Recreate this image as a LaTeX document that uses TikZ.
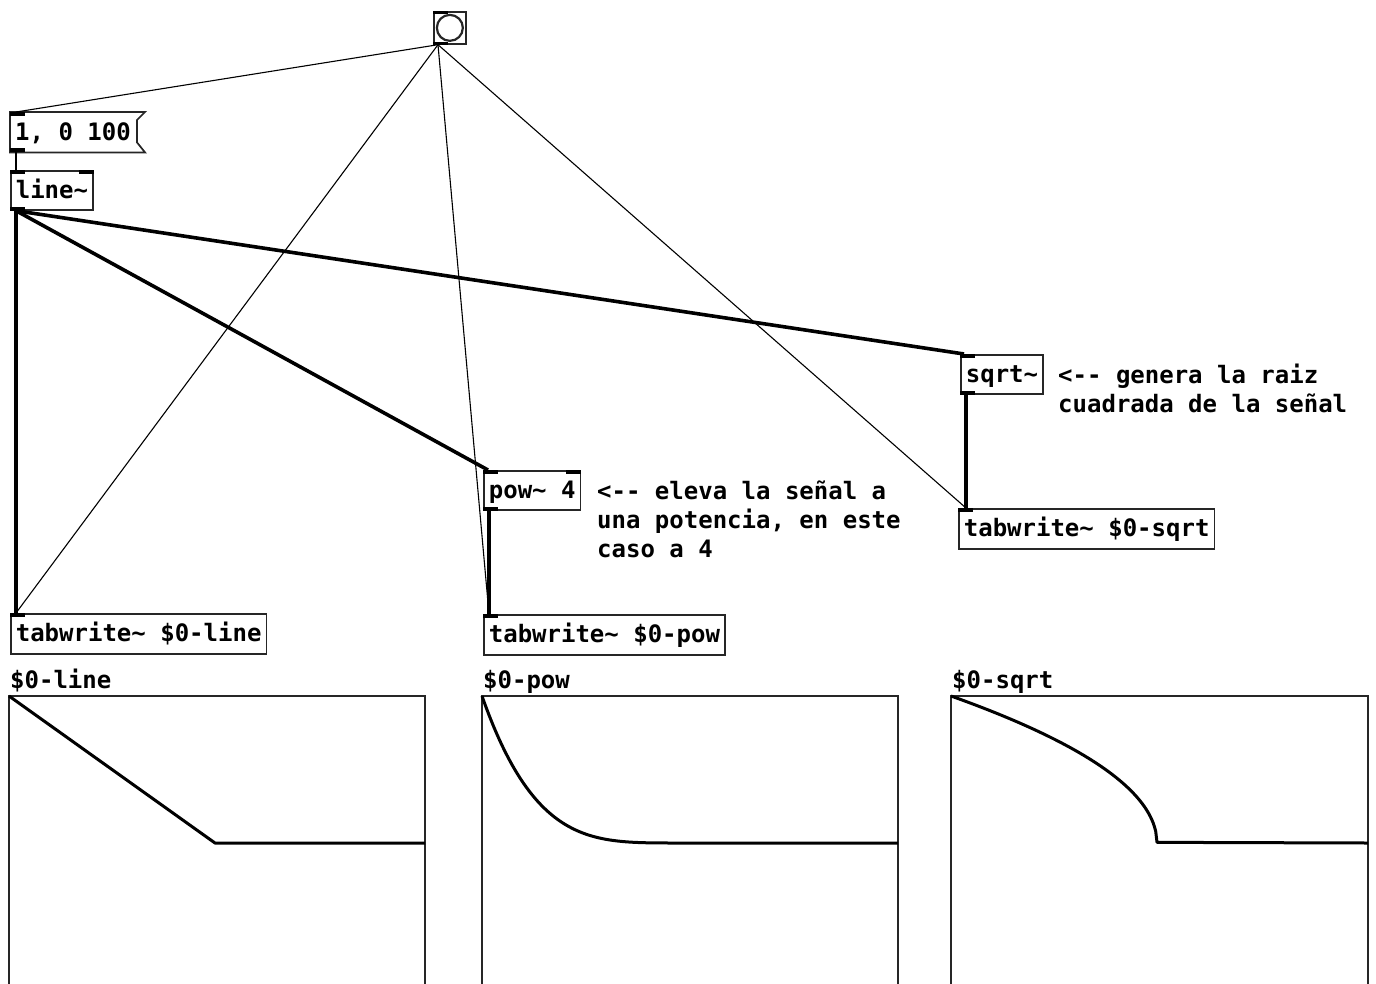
\documentclass[tikz,border=0pt]{standalone}
\usepackage{fontspec}
\setmonofont{DejaVu Sans Mono}
\usetikzlibrary{calc}
\definecolor{boxc}{gray}{0.15}
\begin{document}
\begin{tikzpicture}[x=1pt,y=-1pt,
  pd/.style={font=\ttfamily\bfseries\fontsize{24}{29}\selectfont},
  obj/.style={pd, draw=boxc, line width=1.7pt, anchor=north west, inner xsep=5pt, inner ysep=0pt, minimum height=39pt, text height=20pt, text depth=4pt},
  thinw/.style={line width=1.1pt, black},
  thickw/.style={line width=3.6pt, black},
  iol/.style={fill=black},
  graphbox/.style={draw=boxc, line width=2pt},
  curve/.style={line width=3pt, black, line join=round},
  cmt/.style={pd, anchor=north west, inner sep=0pt, align=left}]
\useasboundingbox (0,0) rectangle (1376,983);
\clip (0,0) rectangle (1376,983);
% bang
\node[draw=boxc, line width=1.7pt, minimum size=32pt, anchor=north west, inner sep=0pt] (bang) at (433,11) {};
\draw[boxc, line width=2.2pt] (bang.center) circle (13);
\fill[iol] (bang.north west) rectangle ++(15,3);
\fill[iol] (bang.south west) rectangle ++(15,-3);
% message box
\node[pd, anchor=north west, inner xsep=5pt, inner ysep=0pt, minimum height=40pt, text height=20pt, text depth=4pt] (msg) at (10,112) {1, 0 100};
\draw[boxc, line width=1.7pt] (msg.north west) -- ($(msg.north east)+(9,0)$) -- ($(msg.north east)+(1,8)$) -- ($(msg.south east)+(1,-10)$) -- ($(msg.south east)+(9,0)$) -- (msg.south west) -- cycle;
\fill[iol] (msg.north west) rectangle ++(15,4);
\fill[iol] (msg.south west) rectangle ++(15,-4);
% objects
\node[obj] (line) at (10,170) {line\textasciitilde};
\fill[iol] (line.north west) rectangle ++(15,4);
\fill[iol] (line.north east) rectangle ++(-15,4);
\fill[iol] (line.south west) rectangle ++(15,-4);
\node[obj] (sqrt) at (960,354) {sqrt\textasciitilde};
\fill[iol] (sqrt.north west) rectangle ++(15,4);
\fill[iol] (sqrt.south west) rectangle ++(15,-4);
\node[obj] (pow) at (483,470) {pow\textasciitilde{} 4};
\fill[iol] (pow.north west) rectangle ++(15,4);
\fill[iol] (pow.north east) rectangle ++(-15,4);
\fill[iol] (pow.south west) rectangle ++(15,-4);
\node[obj, minimum height=40pt] (ts) at (958,508) {tabwrite\textasciitilde{} \$0-sqrt};
\fill[iol] (ts.north west) rectangle ++(15,4);
\node[obj, minimum height=40pt] (tl) at (10,613) {tabwrite\textasciitilde{} \$0-line};
\fill[iol] (tl.north west) rectangle ++(15,4);
\node[obj, minimum height=40pt] (tp) at (483,614) {tabwrite\textasciitilde{} \$0-pow};
\fill[iol] (tp.north west) rectangle ++(15,4);
% comments
\node[cmt] (c1) at (1058,364) {<-{}- genera la raiz\\cuadrada de la señal};
\node[cmt] (c2) at (597,481) {<-{}- eleva la señal a\\una potencia, en este\\caso a 4};
% connections
\draw[thinw] ([xshift=5pt]bang.south west) -- ([xshift=6pt]msg.north west);
\draw[thinw] ([xshift=6pt]msg.south west) -- ([xshift=6pt]line.north west);
\draw[thickw] ([xshift=6pt]line.south west) -- ([xshift=6pt]tl.north west);
\draw[thickw] ([xshift=6pt]line.south west) -- ([xshift=5pt]pow.north west);
\draw[thickw] ([xshift=6pt]line.south west) -- ([xshift=4pt]sqrt.north west);
\draw[thickw] ([xshift=6pt]pow.south west) -- ([xshift=6pt]tp.north west);
\draw[thickw] ([xshift=6pt]sqrt.south west) -- ([xshift=8pt]ts.north west);
\draw[thinw] ([xshift=5pt]bang.south west) -- ([xshift=6pt]tl.north west);
\draw[thinw] ([xshift=5pt]bang.south west) -- ([xshift=6pt]tp.north west);
\draw[thinw] ([xshift=5pt]bang.south west) -- ([xshift=8pt]ts.north west);
% graph labels
\node[pd, anchor=base west, inner sep=0pt] (gl1) at (10,688) {\$0-line};
\node[pd, anchor=base west, inner sep=0pt] (gl2) at (483,688) {\$0-pow};
\node[pd, anchor=base west, inner sep=0pt] (gl3) at (952,688) {\$0-sqrt};
% graphs
\draw[graphbox] (9,1000) -- (9,696) -- (425,696) -- (425,1000);
\draw[graphbox] (482,1000) -- (482,696) -- (898,696) -- (898,1000);
\draw[graphbox] (951,1000) -- (951,696) -- (1368,696) -- (1368,1000);
\draw[curve] (9,696) -- (215,843) -- (425,843);
\draw[curve] plot[domain=0:206, samples=120] ({482+\x},{843-147*(1-\x/206)^4}) -- (898,843);
\draw[curve] plot[domain=0:206, samples=160] ({951+\x},{843-147*sqrt(max(0,1-\x/206))}) -- (1368,843);
\end{tikzpicture}
\end{document}
